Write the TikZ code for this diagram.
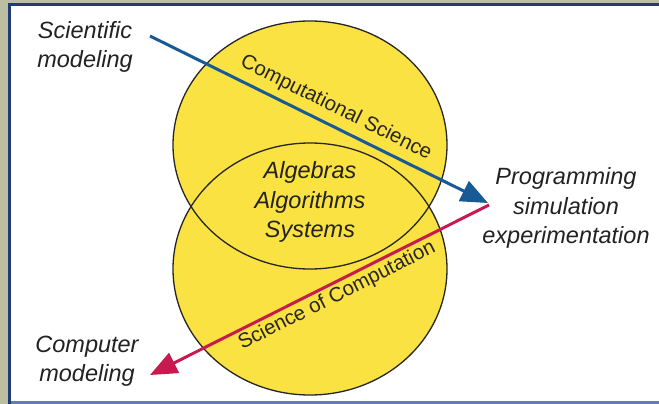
\documentclass[tikz,border=0pt]{standalone}
\usepackage{fontspec}
\setmainfont{Liberation Sans}
\usetikzlibrary{arrows.meta}
\definecolor{frameGrey}{RGB}{188,190,162}
\definecolor{frameBlue}{RGB}{30,60,120}
\definecolor{frameBlueLight}{RGB}{100,125,170}
\definecolor{discYellow}{RGB}{250,226,66}
\definecolor{arrowBlue}{RGB}{24,90,150}
\definecolor{arrowRed}{RGB}{200,26,80}
\definecolor{inkGrey}{RGB}{34,34,34}
\tikzset{
  disc/.style={draw=black!85, line width=1.3pt},
  tag/.style={text=inkGrey, align=center, inner sep=0pt,
    font=\fontsize{23.5}{29.5}\selectfont\itshape},
  arclabel/.style={text=black!85, inner sep=0pt,
    font=\fontsize{20.5}{24}\selectfont},
  flow/.style={line width=3pt,
    -{Triangle[length=27pt, width=22pt]}},
}
\begin{document}
\begin{tikzpicture}[x=1pt, y=-1pt]
  \useasboundingbox (0,0) rectangle (659,404);
  % panel frame
  \fill[frameGrey] (0,0) rectangle (659,404);
  \fill[white] (11,6) rectangle (659,401);
  \fill[frameBlue] (8,3) rectangle (11,404);
  \fill[frameBlue] (8,3) rectangle (659,6);
  \fill[frameBlueLight] (11,401) rectangle (659,404);

  % two overlapping discs; their overlap forms the central lens
  \fill[discYellow] (310,145) ellipse [x radius=137, y radius=124];
  \fill[discYellow] (310,269) ellipse [x radius=137, y radius=126];
  \draw[disc] (310,145) ellipse [x radius=137, y radius=124];
  \draw[disc] (310,269) ellipse [x radius=137, y radius=126];

  % labels
  \node[tag] (sci) at (85,47) {Scientific\\modeling};
  \node[tag] (prog) at (566,208) {Programming\\simulation\\experimentation};
  \node[tag] (comp) at (87,361) {Computer\\modeling};
  \node[tag] (core) at (310,202) {Algebras\\Algorithms\\Systems};
  \node[arclabel, rotate=-26.5] (cs) at (336,108) {Computational Science};
  \node[arclabel, rotate=26.8] (soc) at (337,296) {Science of Computation};

  % flows
  \coordinate (sciEnd) at (150,36);
  \coordinate (hub) at (488,203);
  \coordinate (hubOut) at (489,205);
  \coordinate (compEnd) at (150,375);
  \draw[flow, arrowBlue] (sciEnd) -- (hub);
  \draw[flow, arrowRed] (hubOut) -- (compEnd);
\end{tikzpicture}
\end{document}
